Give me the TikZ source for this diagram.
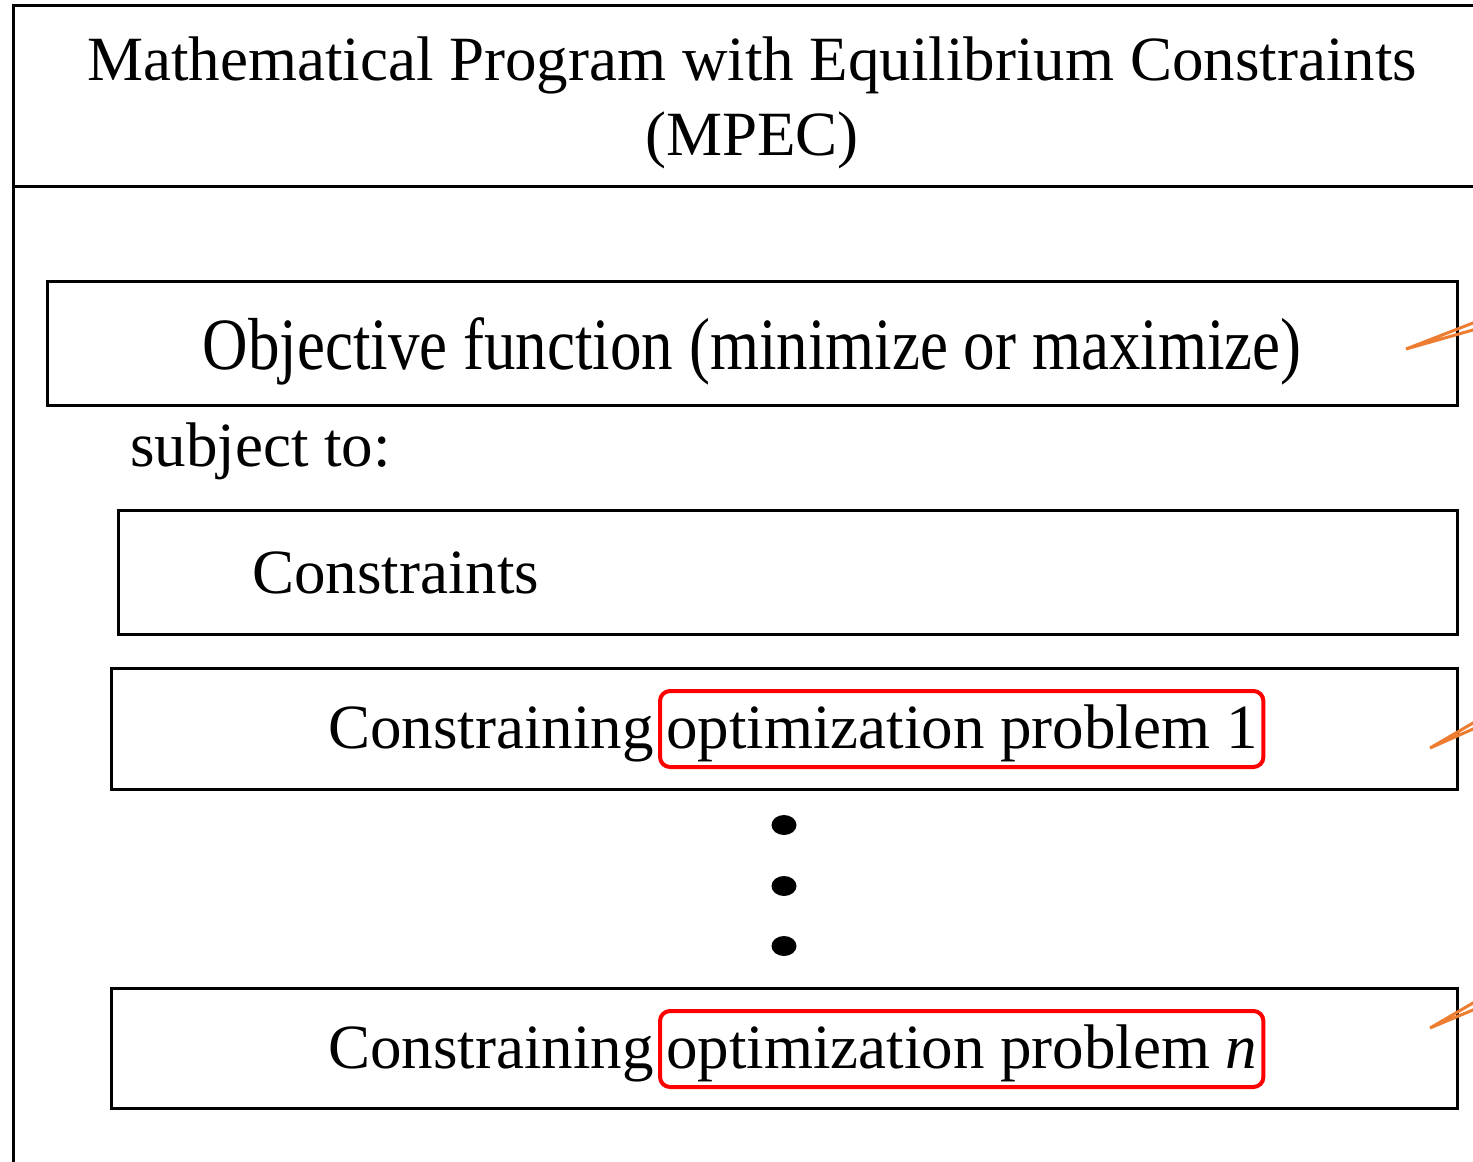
\documentclass[tikz,border=0pt]{standalone}
\usepackage{fontspec}
\setmainfont{Liberation Serif}
\definecolor{ptrorange}{RGB}{237,125,49}
\definecolor{hlred}{RGB}{255,0,0}
\begin{document}
\begin{tikzpicture}[x=1pt,y=-1pt,
  frame/.style={draw=black, line width=3pt},
  boxnode/.style={draw=black, line width=3pt, inner sep=0pt, fill=white},
  txt/.style={inner sep=0pt, font=\fontsize{63}{75}\selectfont},
  redbox/.style={draw=hlred, line width=4pt, rounded corners=10pt, inner xsep=6pt, inner ysep=0pt,
     text height=57pt, text depth=19pt, anchor=base west, font=\fontsize{63}{75}\selectfont},
  pointer/.style={draw=ptrorange, line width=3pt}]
\useasboundingbox (0,0) rectangle (1473,1162);
\clip (0,0) rectangle (1473,1162);
\fill[white] (0,0) rectangle (1473,1162);

% outer frame and title separator
\draw[frame] (13,1200) -- (13,5) -- (1520,5);
\draw[frame] (13,186) -- (1520,186);
\node[txt, anchor=base] (title1) at (752,80) {Mathematical Program with Equilibrium Constraints};
\node[txt, anchor=base] (title2) at (752,155) {(MPEC)};

% boxes
\node[boxnode, minimum width=1410pt, minimum height=124pt] (obj) at (752,343) {};
\node[boxnode, minimum width=1339pt, minimum height=124pt] (cons) at (787.5,572) {};
\node[boxnode, minimum width=1346pt, minimum height=121pt] (opt1) at (784,728.5) {};
\node[boxnode, minimum width=1346pt, minimum height=120pt] (optn) at (784,1048) {};

% texts
\node[txt, anchor=base] (objtxt) at (752,369) {\scalebox{1}[1.17]{Objective function (minimize or maximize)}};
\node[txt, anchor=base west] (subj) at (130,466) {subject to:};
\node[txt, anchor=base west] (constxt) at (252,593) {Constraints};
\node[txt, anchor=base west] (c1) at (328,748) {Constraining};
\node[redbox] (r1) at (658,748) {optimization problem 1};
\node[txt, anchor=base west] (cn) at (328,1068) {Constraining};
\node[redbox] (rn) at (658,1068) {optimization problem \textit{n}};

% vertical dots
\fill (784,825) ellipse [x radius=12.5pt, y radius=10pt];
\fill (784,886) ellipse [x radius=12.5pt, y radius=10pt];
\fill (784,946) ellipse [x radius=12.5pt, y radius=10pt];

% orange pointers leaving the frame
\coordinate (p0) at (1406,349);
\coordinate (p0a) at (1500,312.5);
\coordinate (p0b) at (1500,322.3);
\coordinate (p1) at (1430,748);
\coordinate (p1a) at (1500,707.3);
\coordinate (p1b) at (1500,717.1);
\coordinate (p2) at (1430,1028);
\coordinate (p2a) at (1500,987.3);
\coordinate (p2b) at (1500,998.6);
\draw[pointer] (p0a) -- (p0) -- (p0b);
\draw[pointer] (p1a) -- (p1) -- (p1b);
\draw[pointer] (p2a) -- (p2) -- (p2b);
\end{tikzpicture}
\end{document}
